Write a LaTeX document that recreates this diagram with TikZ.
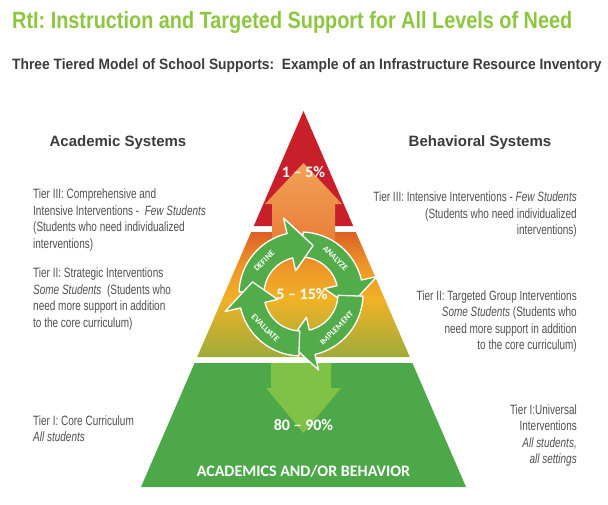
\documentclass[tikz,border=0pt]{standalone}
\usepackage{fontspec}
\setmainfont{Liberation Sans}
\newfontfamily\narrowfont{Liberation Sans}[FakeStretch=0.74]
\newfontfamily\titlefont{Liberation Sans}[FakeStretch=0.845]
\newfontfamily\subfont{Liberation Sans}[FakeStretch=0.92]
\newfontfamily\calfont{Carlito}
\usetikzlibrary{calc}
\definecolor{rtigreen}{RGB}{141,198,63}
\definecolor{darkgray}{RGB}{60,60,60}
\definecolor{bodygray}{RGB}{80,80,80}
\definecolor{tierred}{RGB}{200,32,42}
\definecolor{tiertwotop}{RGB}{220,96,40}
\definecolor{tiertwoor}{RGB}{238,148,40}
\definecolor{tiertwomid}{RGB}{240,178,38}
\definecolor{tiertwobot}{RGB}{158,172,58}
\definecolor{tiergreen}{RGB}{76,168,72}
\definecolor{ringgreen}{RGB}{82,172,74}
\definecolor{uptop}{RGB}{242,162,88}
\definecolor{upbot}{RGB}{232,120,50}
\definecolor{downgreen}{RGB}{128,194,70}

\pgfdeclareverticalshading{tiertwoshade}{100bp}{color(0bp)=(tiertwobot); color(25bp)=(tiertwobot);
  color(48bp)=(tiertwomid); color(62bp)=(tiertwoor); color(75bp)=(tiertwotop); color(100bp)=(tiertwotop)}

\tikzset{
  bodytext/.style={text=bodygray, font=\narrowfont\fontsize{13.5}{16.5}\selectfont, inner sep=0pt},
  headtext/.style={text=darkgray, font=\bfseries\fontsize{15}{18}\selectfont, inner sep=0pt},
  pcttext/.style={text=white, font=\calfont\bfseries\fontsize{16}{18}\selectfont, inner sep=0pt},
  steplabel/.style={text=white, font=\calfont\bfseries\fontsize{8.5}{9}\selectfont, inner sep=0pt}
}

% one curved arrow of the cycle: tail angle, head base angle, tip angle
\newcommand{\cyclearrow}[3]{%
  \filldraw[fill=ringgreen, draw=white, line width=1.3pt, line join=round]
    (#1:62) arc[start angle=#1, end angle=#2, radius=62]
    -- (#2:78) -- (#3:50) -- (#2:24)
    -- (#2:37) arc[start angle=#2, end angle=#1, radius=37] -- cycle;}

\begin{document}
\begin{tikzpicture}[x=1pt, y=-1pt]
    \useasboundingbox[fill=white] (0,0) rectangle (608,504);

    % Titles
    \node[anchor=west, inner sep=0pt, text=rtigreen, font=\titlefont\bfseries\fontsize{23.5}{26}\selectfont] (title) at (12,22)
        {RtI: Instruction and Targeted Support for All Levels of Need};
    \node[anchor=west, inner sep=0pt, text=darkgray, font=\subfont\bfseries\fontsize{15}{17}\selectfont] (subtitle) at (12,66)
        {Three Tiered Model of School Supports:\ \ Example of an Infrastructure Resource Inventory};

    % Pyramid tiers
    \fill[tierred] (303.5,111) -- (353.2,226) -- (253.8,226) -- cycle;
    \shade[shading=tiertwoshade]
        (251.2,232) -- (355.8,232) -- (409.8,357) -- (197.2,357) -- cycle;
    \fill[tiergreen] (194.6,363) -- (412.4,363) -- (466,487) -- (141,487) -- cycle;

    % Up and down arrows
    \shade[top color=uptop, bottom color=upbot]
        (303.5,163) -- (342,204) -- (335,204) -- (335,255) -- (272,255) -- (272,204) -- (265,204) -- cycle;
    \fill[downgreen]
        (271,363) -- (331,363) -- (331,388) -- (341,388) -- (303.5,433) -- (266,388) -- (271,388) -- cycle;

    % Cycle of four arrows
    \begin{scope}[shift={(301,294)}, y=1pt]
        \cyclearrow{178}{103}{76}
        \cyclearrow{88}{13}{-14}
        \cyclearrow{-2}{-77}{-104}
        \cyclearrow{-92}{-167}{-194}
        \begin{scope}
            \clip (0,0) -- (66:100) arc[start angle=66, end angle=100, radius=100] -- cycle;
            \cyclearrow{178}{103}{76}
        \end{scope}
        \node[steplabel, rotate=45] (define) at (138:49.5) {DEFINE};
        \node[steplabel, rotate=-45] (analyze) at (46:49.5) {ANALYZE};
        \node[steplabel, rotate=45] (implement) at (-44:49.5) {IMPLEMENT};
        \node[steplabel, rotate=-45] (evaluate) at (-136:49.5) {EVALUATE};
    \end{scope}

    % Percentages
    \node[pcttext] (few) at (303.5,172) {1 – 5\%};
    \node[pcttext] (some) at (302,294) {5 – 15\%};
    \node[pcttext] (all) at (303.5,425) {80 – 90\%};
    \node[pcttext] (base) at (303.5,471) {ACADEMICS AND/OR BEHAVIOR};

    % Academic side
    \node[headtext] (acad) at (118,143) {Academic Systems};
    \node[bodytext, anchor=west, align=left] (acadthree) at (33,220)
        {Tier III: Comprehensive and\\Intensive Interventions -\ \ \textit{Few Students}\\(Students who need\ individualized\\interventions)};
    \node[bodytext, anchor=west, align=left] (acadtwo) at (33,299)
        {Tier II: Strategic Interventions\\\textit{Some Students}\ \ (Students who\\need more support in addition\\to the core curriculum)};
    \node[bodytext, anchor=west, align=left] (acadone) at (33,428.5)
        {Tier I: Core Curriculum\\\textit{All students}};

    % Behavioral side
    \node[headtext] (behav) at (480,143) {Behavioral Systems};
    \node[bodytext, anchor=east, align=right] (behavthree) at (577,215)
        {Tier III: Intensive Interventions - \textit{Few Students}\\(Students who need\ individualized\\interventions)};
    \node[bodytext, anchor=east, align=right] (behavtwo) at (577,321.5)
        {Tier II:\ Targeted Group Interventions\\\textit{Some Students} (Students who\\need more support in addition\\to the core curriculum)};
    \node[bodytext, anchor=east, align=right] (behavone) at (577,435.5)
        {Tier I:Universal\\Interventions\\\textit{All students,}\\\textit{all settings}};
\end{tikzpicture}
\end{document}
